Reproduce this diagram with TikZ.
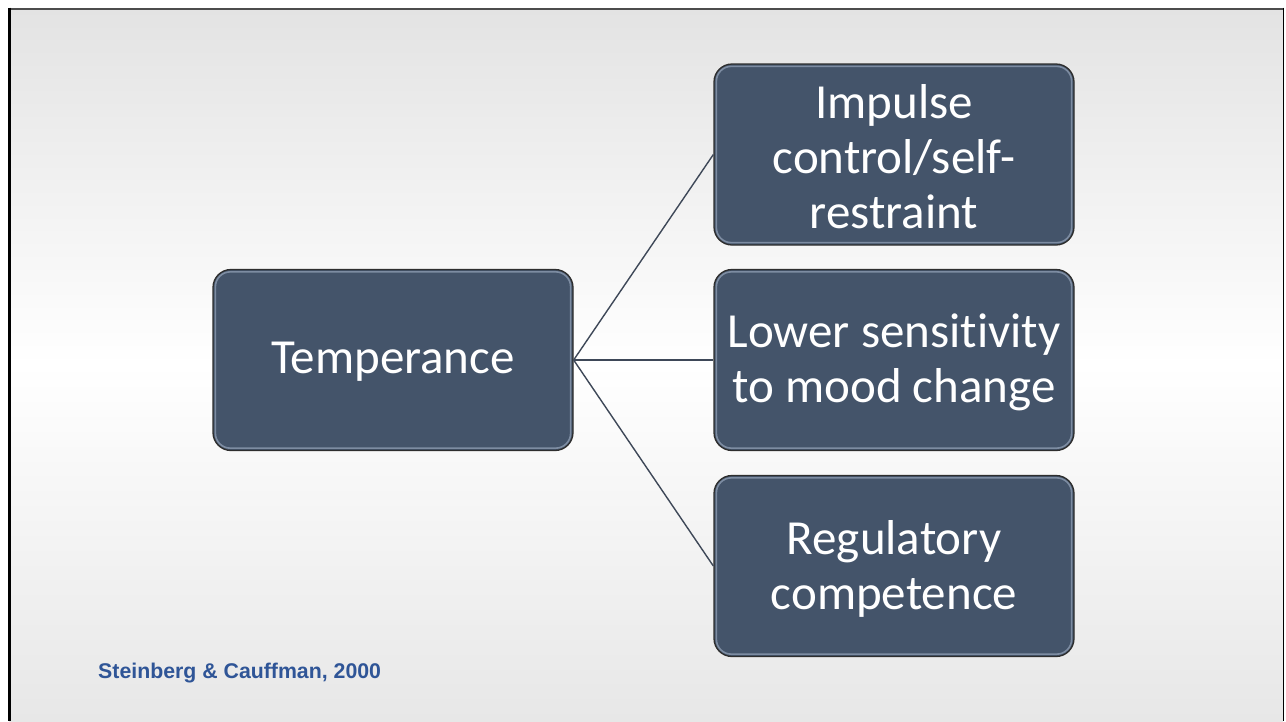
\documentclass[tikz,border=0pt]{standalone}
\usepackage{fontspec}
\setmainfont[Ligatures=NoCommon]{Carlito}
\newfontfamily\citefont{Liberation Sans}
\definecolor{slate}{HTML}{44546A}
\definecolor{edge}{HTML}{2E2E2E}
\definecolor{bevel}{HTML}{8C9BB0}
\definecolor{link}{HTML}{3E4858}
\definecolor{citeblue}{HTML}{2F5597}
\definecolor{bgtop}{HTML}{E3E3E3}
\definecolor{bgbot}{HTML}{E7E7E7}
\tikzset{
  card/.style={fill=slate, draw=edge, line width=1.3pt, rounded corners=18pt,
    minimum width=360pt, minimum height=181pt, inner sep=0pt},
  cardhi/.style={draw=bevel, line width=1.6pt, rounded corners=15pt, opacity=0.8},
  label/.style={text=white, align=center, font=\fontsize{49}{55}\selectfont},
  link/.style={draw=link, line width=1.4pt},
}
\begin{document}
\begin{tikzpicture}[x=1pt,y=-1pt]
  \useasboundingbox (0,0) rectangle (1286,721);
  % slide background
  \fill[white] (0,0) rectangle (1286,721);
  \shade[top color=bgtop, bottom color=bgbot, middle color=white] (9,8) rectangle (1283,721);
  \draw[black!70, line width=2pt] (9,8.5) -- (1283,8.5);
  \draw[black, line width=3pt] (9.5,7.5) -- (9.5,721);
  \draw[black, line width=1.5pt] (1283.5,7.5) -- (1283.5,721);

  % boxes
  \node[card] (temp) at (393,360) {};
  \node[card] (imp)  at (894,154.5) {};
  \node[card] (low)  at (894,360) {};
  \node[card] (reg)  at (894,566) {};
  \foreach \n in {temp,imp,low,reg}{
    \draw[cardhi] ([shift={(3,-3)}]\n.south west) rectangle ([shift={(-3,3)}]\n.north east);
  }

  % labels
  \node[label] (tempT) at (393,362) {Temperance};
  \node[label] (impT)  at (894,157) {Impulse\\control/self-\\restraint};
  \node[label] (lowT)  at (894,362.5) {Lower sensitivity\\to mood change};
  \node[label] (regT)  at (894,568.5) {Regulatory\\competence};

  % connectors
  \draw[link] (temp.east) -- (imp.west);
  \draw[link] (temp.east) -- (low.west);
  \draw[link] (temp.east) -- (reg.west);

  % reference
  \node[anchor=base west, inner sep=0pt, text=citeblue, font=\citefont\bfseries\fontsize{21.3}{25}\selectfont] (cite) at (98,678) {Steinberg \& Cauffman, 2000};
\end{tikzpicture}
\end{document}
